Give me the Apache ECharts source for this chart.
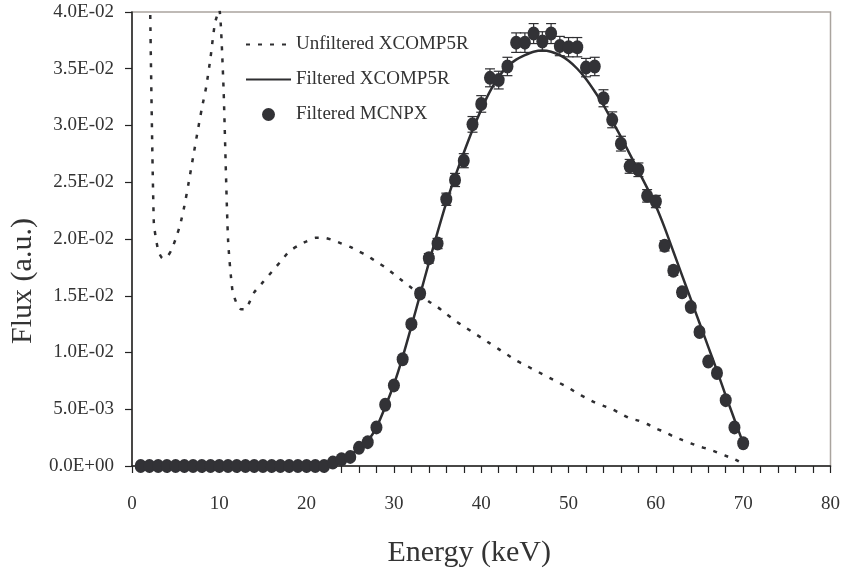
<!DOCTYPE html>
<html>
<head>
<meta charset="utf-8">
<script src="https://cdn.jsdelivr.net/npm/echarts@6/dist/echarts.min.js"></script>
<style>
html,body{margin:0;padding:0;background:#fff;}
#chart{width:843px;height:576px;}
</style>
</head>
<body>
<div id="chart"></div>
<script>
// ---- Data ----
const xTickLabels = ['0','10','20','30','40','50','60','70','80'];
const yTickLabels = ['0.0E+00','5.0E-03','1.0E-02','1.5E-02','2.0E-02','2.5E-02','3.0E-02','3.5E-02','4.0E-02'];

const unfilteredEnergy = [2.0,2.5,3.0,3.5,4.0,4.5,5.0,5.5,6.0,6.5,7.0,7.5,8.0,8.5,9.0,9.5,10.0,10.2,10.5,11.0,11.5,12.0,12.5,13.0,13.5,14,15,16,17,18,19,20,21,22,23,24,25,26,27,28,29,30,31,32,33,34,35,36,37,38,39,40,41,42,43,44,45,46,47,48,49,50,51,52,53,54,55,56,57,58,59,60,61,62,63,64,65,66,67,68,69,69.5];
const unfilteredFlux = [0.045,0.0215,0.0190,0.0183,0.0184,0.0190,0.0200,0.0212,0.0229,0.0250,0.0272,0.0294,0.0315,0.0334,0.0360,0.0390,0.0402,0.0385,0.0330,0.0200,0.0155,0.0143,0.0138,0.0138,0.0145,0.0153,0.0162,0.0171,0.0180,0.0189,0.0194,0.0198,0.0201,0.0201,0.0199,0.0196,0.0193,0.0189,0.0185,0.0180,0.0175,0.0169,0.0163,0.0157,0.0151,0.0145,0.0140,0.0134,0.0128,0.0123,0.0118,0.0113,0.0108,0.0103,0.0098,0.0093,0.0089,0.0085,0.0081,0.0077,0.0073,0.0069,0.0064,0.0060,0.0056,0.0053,0.0050,0.0046,0.0042,0.0040,0.0037,0.0033,0.0030,0.0026,0.0023,0.0020,0.0017,0.0015,0.0012,0.0009,0.0006,0.0004];

const filteredEnergy = [20,21,22,23,24,25,26,27,28,29,30,31,32,33,34,35,36,37,38,39,40,41,42,43,44,45,46,47,48,49,50,51,52,53,54,55,56,57,58,59,60,61,62,63,64,65,66,67,68,69,70];
const filteredFlux = [0,0.00005,0.0001,0.0003,0.0006,0.0010,0.0015,0.0022,0.0034,0.0052,0.0072,0.0096,0.0123,0.0151,0.0179,0.0206,0.0232,0.0255,0.0276,0.0296,0.0314,0.0330,0.0343,0.0352,0.0358,0.0362,0.0365,0.0366,0.0365,0.0362,0.0357,0.0350,0.0341,0.0330,0.0318,0.0304,0.0290,0.0275,0.0260,0.0245,0.0229,0.0210,0.0189,0.0168,0.0147,0.0126,0.0105,0.0084,0.0062,0.0041,0.0020];

const mcnpxEnergy = [1,2,3,4,5,6,7,8,9,10,11,12,13,14,15,16,17,18,19,20,21,22,23,24,25,26,27,28,29,30,31,32,33,34,35,36,37,38,39,40,41,42,43,44,45,46,47,48,49,50,51,52,53,54,55,56,57,58,59,60,61,62,63,64,65,66,67,68,69,70];
const mcnpxFlux = [0,0,0,0,0,0,0,0,0,0,0,0,0,0,0,0,0,0,0,0,0,0,0.0003,0.0006,0.0008,0.0016,0.0021,0.0034,0.0054,0.0071,0.0094,0.0125,0.0152,0.0183,0.0196,0.0235,0.0252,0.0269,0.0301,0.0319,0.0342,0.0340,0.0352,0.0373,0.0373,0.0381,0.0374,0.0381,0.0370,0.0369,0.0369,0.0351,0.0352,0.0324,0.0305,0.0284,0.0264,0.0261,0.0238,0.0233,0.0194,0.0172,0.0153,0.0140,0.0118,0.0092,0.0082,0.0058,0.0034,0.0020];
const mcnpxErr = [0,0,0,0,0,0,0,0,0,0,0,0,0,0,0,0,0,0,0,0,0,0,0.00001,0.00001,0.00002,0.00004,0.00005,0.00008,0.00012,0.00016,0.00022,0.00029,0.00035,0.00042,0.00045,0.00054,0.00058,0.00062,0.00069,0.00073,0.00079,0.00078,0.00081,0.00086,0.00086,0.00088,0.00086,0.00088,0.00085,0.00085,0.00085,0.00081,0.00081,0.00075,0.00070,0.00065,0.00061,0.00060,0.00055,0.00054,0.00045,0.00040,0.00035,0.00032,0.00027,0.00021,0.00019,0.00013,0.00008,0.00005];

// ---- Chart ----
const FONT = '"Liberation Serif", "Times New Roman", serif';
const TXT = '#333333';
const INK = '#2e2e31';

const zip = (a, b) => a.map((v, i) => [v, b[i]]);
const errData = mcnpxEnergy.map((e, i) => [e, mcnpxFlux[i] - mcnpxErr[i], mcnpxFlux[i] + mcnpxErr[i]]);

const chart = echarts.init(document.getElementById('chart'), null, {renderer: 'canvas'});
chart.setOption({
  animation: false,
  backgroundColor: '#ffffff',
  grid: {left: 131, right: 11, top: 12, bottom: 110, show: true, borderColor: '#aaa49e', borderWidth: 1.5, backgroundColor: 'transparent'},
  legend: {
    orient: 'vertical', left: 245, top: 35, padding: 0, itemWidth: 45, itemHeight: 13, itemGap: 16,
    textStyle: {fontFamily: FONT, fontSize: 19, color: TXT},
    data: [
      {name: 'Unfiltered XCOMP5R', itemStyle: {opacity: 0}},
      {name: 'Filtered XCOMP5R', itemStyle: {opacity: 0}},
      {name: 'Filtered MCNPX', icon: 'circle'}
    ]
  },
  xAxis: {
    type: 'value', min: 0, max: 80, interval: 10,
    name: 'Energy (keV)', nameLocation: 'middle', nameGap: 72,
    nameTextStyle: {fontFamily: FONT, fontSize: 30, color: TXT, padding: [0, 24, 0, 0]},
    axisLine: {show: true, onZero: false, lineStyle: {color: '#222', width: 1.5}},
    axisTick: {show: true, inside: false, length: 7, lineStyle: {color: '#222', width: 1.2}},
    minorTick: {show: true, splitNumber: 5, length: 7, lineStyle: {color: '#222', width: 1.2}},
    splitLine: {show: false},
    axisLabel: {margin: 29, fontFamily: FONT, fontSize: 19, color: TXT,
      formatter: v => xTickLabels[Math.round(v / 10)]}
  },
  yAxis: {
    type: 'value', min: 0, max: 0.04, interval: 0.005,
    name: 'Flux (a.u.)', nameLocation: 'middle', nameGap: 88, nameRotate: 90,
    nameTextStyle: {fontFamily: FONT, fontSize: 30, color: TXT, padding: [0, 84, 0, 0]},
    axisLine: {show: true, onZero: false, lineStyle: {color: '#222', width: 1.5}},
    axisTick: {show: true, inside: false, length: 7, lineStyle: {color: '#222', width: 1.2}},
    splitLine: {show: false},
    axisLabel: {margin: 18, fontFamily: FONT, fontSize: 19, color: TXT,
      formatter: v => yTickLabels[Math.round(v / 0.005)]}
  },
  series: [
    {
      name: 'Unfiltered XCOMP5R', type: 'line', data: zip(unfilteredEnergy, unfilteredFlux),
      symbol: 'none', smooth: 0.2, clip: true, z: 2,
      lineStyle: {color: INK, width: 2.5, type: [4, 8]}, itemStyle: {color: INK}
    },
    {
      name: 'Filtered XCOMP5R', type: 'line', data: zip(filteredEnergy, filteredFlux),
      symbol: 'none', smooth: 0.2, clip: true, z: 3,
      lineStyle: {color: INK, width: 2.5, type: 'solid'}, itemStyle: {color: INK}
    },
    {
      name: 'errbars', type: 'custom', data: errData, z: 4, silent: true,
      renderItem: function (params, api) {
        const x = api.value(0);
        const lo = api.coord([x, api.value(1)]);
        const hi = api.coord([x, api.value(2)]);
        const w = 5;
        const style = {stroke: INK, lineWidth: 1.2, fill: null};
        return {type: 'group', children: [
          {type: 'line', shape: {x1: lo[0], y1: lo[1], x2: hi[0], y2: hi[1]}, style: style},
          {type: 'line', shape: {x1: lo[0] - w, y1: lo[1], x2: lo[0] + w, y2: lo[1]}, style: style},
          {type: 'line', shape: {x1: hi[0] - w, y1: hi[1], x2: hi[0] + w, y2: hi[1]}, style: style}
        ]};
      }
    },
    {
      name: 'Filtered MCNPX', type: 'scatter', data: zip(mcnpxEnergy, mcnpxFlux),
      symbol: 'circle', symbolSize: [12, 14], z: 5,
      itemStyle: {color: '#323236', opacity: 1}
    }
  ]
});
</script>
</body>
</html>
